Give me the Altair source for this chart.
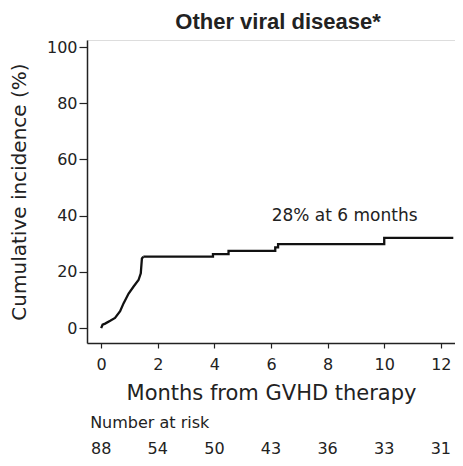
import altair as alt
import pandas as pd

# Cumulative incidence curve (months, %): early rise, then step plateau
rise_months = [0, 0.05, 0.14, 0.32, 0.49, 0.67, 0.79, 0.97, 1.14, 1.32, 1.40, 1.44, 1.49]
rise_incidence = [0, 1.2, 1.6, 2.6, 3.6, 6.0, 8.8, 12.3, 14.7, 17.1, 19.5, 24.8, 25.4]
step_months = [1.49, 3.95, 4.50, 6.15, 6.25, 10.0, 12.44]
step_incidence = [25.4, 26.3, 27.5, 28.7, 29.9, 32.1, 32.1]

# Number at risk
risk_months = [0, 2, 4, 6, 8, 10, 12]
risk_counts = [88, 54, 50, 43, 36, 33, 31]

annotation = "28% at 6 months"
annot_x = [8.6]
annot_y = [40]

FONT = "DejaVu Sans"
TFONT = "Liberation Sans"
INK = "#222"
rise_df = pd.DataFrame({"m": rise_months, "ci": rise_incidence})
step_df = pd.DataFrame({"m": step_months, "ci": step_incidence})
risk_df = pd.DataFrame({"m": risk_months, "n": [str(v) for v in risk_counts]})
annot_df = pd.DataFrame({"m": annot_x, "ci": annot_y, "t": [annotation]})

xscale = alt.Scale(domain=[-0.5, 12.5], nice=False, zero=False)
yscale = alt.Scale(domain=[-5.3, 102.5], nice=False, zero=False)

xaxis = alt.Axis(values=risk_months, title="Months from GVHD therapy", labelFontSize=16,
                 titleFontSize=21, titleFontWeight="normal", grid=False, tickSize=5,
                 labelPadding=8, titlePadding=10, domainColor=INK, tickColor=INK,
                 labelColor=INK, titleColor=INK, domainWidth=1.5, tickWidth=1.2,
                 labelFont=FONT, titleFont=FONT)
yaxis = alt.Axis(values=[0, 20, 40, 60, 80, 100], title="Cumulative incidence (%)", labelFontSize=16,
                 titleFontSize=20, titleFontWeight="normal", grid=False, tickSize=8,
                 labelPadding=2, titlePadding=17, domainColor=INK, tickColor=INK,
                 labelColor=INK, titleColor=INK, domainWidth=1.5, tickWidth=1.2,
                 labelFont=FONT, titleFont=FONT)

rise = alt.Chart(rise_df).mark_line(color="#111", strokeWidth=2.3).encode(
    x=alt.X("m:Q", scale=xscale, axis=xaxis),
    y=alt.Y("ci:Q", scale=yscale, axis=yaxis),
)
step = alt.Chart(step_df).mark_line(interpolate="step-after", color="#111", strokeWidth=2.3).encode(
    x=alt.X("m:Q", scale=xscale),
    y=alt.Y("ci:Q", scale=yscale),
)

annot = alt.Chart(annot_df).mark_text(font=FONT, fontSize=17, color=INK).encode(
    x=alt.X("m:Q", scale=xscale), y=alt.Y("ci:Q", scale=yscale), text="t:N"
)

risk_title = alt.Chart(pd.DataFrame({"m": [0], "t": ["Number  at risk"]})).mark_text(
    font=FONT, fontSize=16, color=INK, align="left", dx=-11
).encode(x=alt.X("m:Q", scale=xscale), y=alt.value(383), text="t:N")

risk_nums = alt.Chart(risk_df).mark_text(font=FONT, fontSize=16, color=INK).encode(
    x=alt.X("m:Q", scale=xscale), y=alt.value(409), text="n:N"
)

chart = alt.layer(rise, step, annot, risk_title, risk_nums).properties(
    width=368, height=303,
    autosize=alt.AutoSizeParams(type="none"),
    padding={"left": 79, "top": 32, "right": 0, "bottom": 115},
    title=alt.TitleParams("Other viral disease*", font=TFONT, fontSize=22, fontWeight="bold",
                          color=INK, anchor="middle", dx=7, offset=5),
).configure_view(stroke=None).configure(background="white")

chart.save("out.html", embed_options={"renderer": "svg", "actions": False})
